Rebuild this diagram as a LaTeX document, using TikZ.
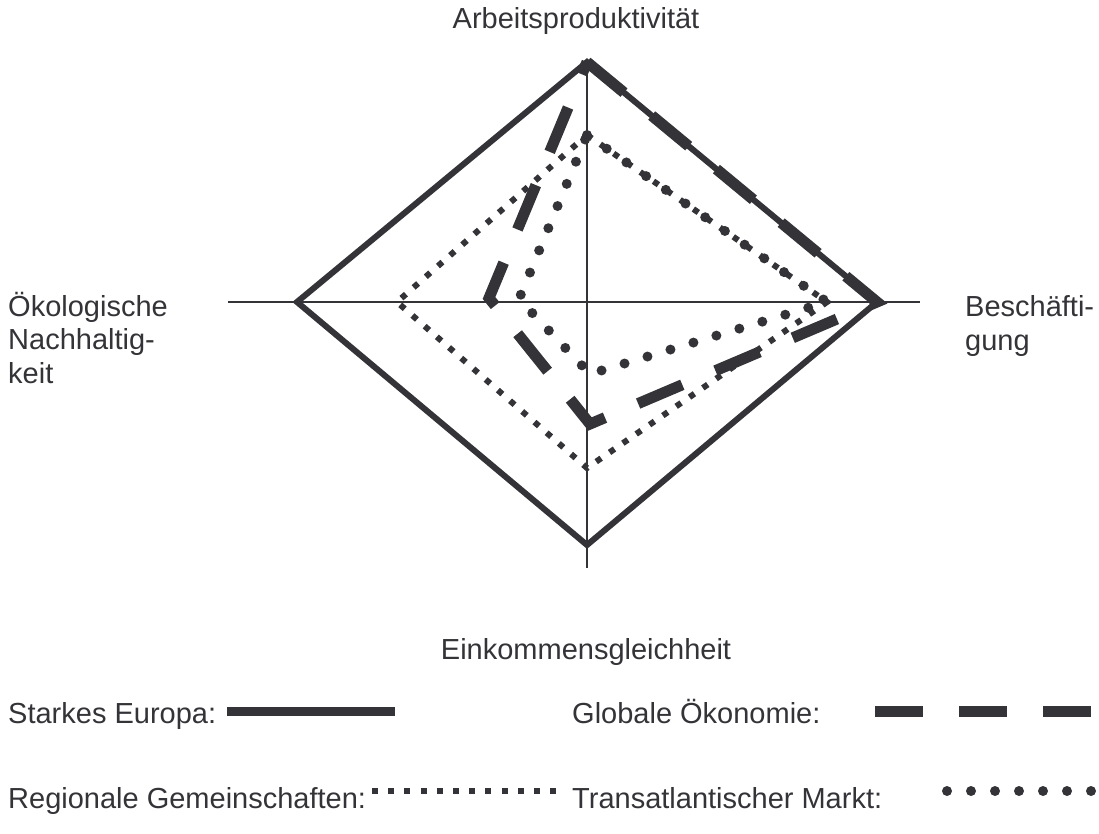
\documentclass[tikz,border=0pt]{standalone}
\usepackage{fontspec}
\setmainfont{Liberation Sans}
\usetikzlibrary{positioning}
\definecolor{ink}{RGB}{51,51,56}
\def\rowA{723}
\def\rowB{808}
\tikzstyle{lbl}=[inner sep=0pt,anchor=base west,align=left,text=ink,
  font=\fontsize{29}{33.5}\selectfont]
\tikzstyle{axis}=[line width=2pt]
\tikzstyle{europa}=[line width=6pt,miter limit=20]
\tikzstyle{globalOek}=[line width=11pt,dash pattern=on 48pt off 36pt]
\tikzstyle{regional}=[line width=6pt,dash pattern=on 6pt off 10.2pt]
\tikzstyle{transat}=[line width=10pt,line cap=round,dash pattern=on 0pt off 24pt]
\newcommand{\newPoint}[3]{\coordinate (#1) at (#2,#3);}
\newcommand{\newShape}[5]{\draw[#1] (#2) -- (#3) -- (#4) -- (#5) -- cycle;}

\begin{document}
\begin{tikzpicture}[x=1pt,y=-1pt,draw=ink,
    line join=miter  %miter, round
    ]
    \useasboundingbox (0,0) rectangle (1099,833);
    % axes
    \newPoint{axW}{228}{302}
    \newPoint{axE}{920}{302}
    \newPoint{axN}{587}{62}
    \newPoint{axS}{587}{568}
    \draw[axis] (axW) -- (axE);
    \draw[axis] (axN) -- (axS);
    % corners of the four scenarios
    \newPoint{seN}{587}{62}
    \newPoint{seE}{877}{302}
    \newPoint{seS}{587}{545}
    \newPoint{seW}{297}{302}
    \newPoint{goS}{590}{424}
    \newPoint{goW}{489}{298}
    \newPoint{reN}{587}{135}
    \newPoint{reE}{827}{302}
    \newPoint{reS}{587}{468}
    \newPoint{reW}{397}{302}
    \newPoint{trS}{590}{374}
    \newPoint{trW}{519}{299}
    \newShape{europa}{seN}{seE}{seS}{seW}
    \newShape{regional}{reN}{reE}{reS}{reW}
    \newShape{globalOek}{seN}{seE}{goS}{goW}
    \newShape{transat}{reN}{reE}{trS}{trW}
    % axis labels (base = last line)
    \node[lbl,anchor=base] (arbeit) at (576,28) {Arbeitsproduktivität};
    \node[lbl] (oeko) at (8,383) {Ökologische\\Nachhaltig-\\keit};
    \node[lbl] (besch) at (965,350) {Beschäfti-\\gung};
    \node[lbl,anchor=base] (einkommen) at (586,659) {Einkommensgleichheit};
    % legend
    \node[lbl] (lgEuropa) at (8,\rowA) {Starkes Europa:};
    \node[lbl] (lgGlobal) at (572,\rowA) {Globale Ökonomie:};
    \node[lbl] (lgRegional) at (8,\rowB) {Regionale Gemeinschaften:};
    \node[lbl] (lgTrans) at (572,\rowB) {Transatlantischer Markt:};
    \newPoint{lgEuropaA}{227}{711.5}
    \newPoint{lgEuropaB}{395}{711.5}
    \newPoint{lgGlobalA}{875}{711.5}
    \newPoint{lgGlobalB}{1091}{711.5}
    \newPoint{lgRegionalA}{372}{\rowB-17}
    \newPoint{lgRegionalB}{558}{\rowB-17}
    \newPoint{lgTransA}{947}{\rowB-17}
    \newPoint{lgTransB}{1092}{\rowB-17}
    \draw[europa,line width=8.5pt] (lgEuropaA) -- (lgEuropaB);
    \draw[globalOek] (lgGlobalA) -- (lgGlobalB);
    \draw[regional] (lgRegionalA) -- (lgRegionalB);
    \draw[transat] (lgTransA) -- (lgTransB);
  \end{tikzpicture}
\end{document}
